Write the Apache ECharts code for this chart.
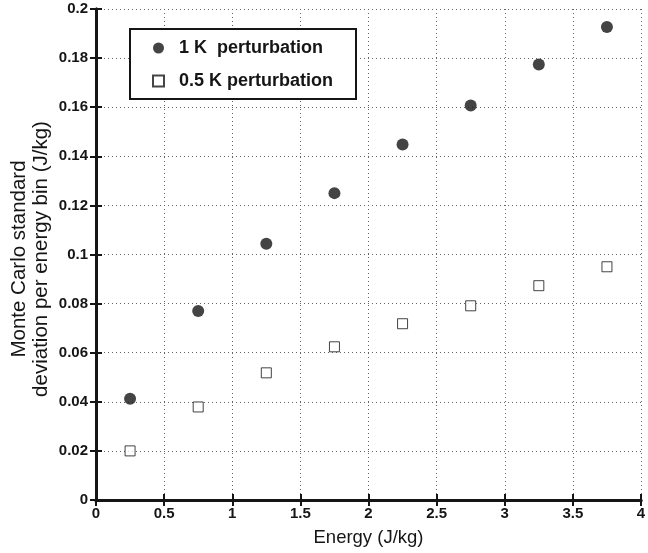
<!DOCTYPE html>
<html>
<head>
<meta charset="utf-8">
<script src="https://cdn.jsdelivr.net/npm/echarts@6/dist/echarts.min.js"></script>
<style>
  html, body { margin: 0; padding: 0; background: #fff; }
  #chart { width: 648px; height: 553px; }
</style>
</head>
<body>
<div id="chart"></div>
<script>
const energy = [0.25, 0.75, 1.25, 1.75, 2.25, 2.75, 3.25, 3.75];
const pert1K = [0.0412, 0.077, 0.1044, 0.1250, 0.1448, 0.1607, 0.1774, 0.1927];
const pert05K = [0.0200, 0.0379, 0.0518, 0.0624, 0.0718, 0.0791, 0.0873, 0.0950];

const chart = echarts.init(document.getElementById("chart"));
const font = "Liberation Sans, Arial, sans-serif";
const ink = "#151515";

const gridLine = { show: true, lineStyle: { color: "#666", type: [1, 3], width: 1 } };
const tickIn = { show: true, inside: true, length: 6, lineStyle: { color: ink, width: 2 } };
const lineBlack = { show: true, lineStyle: { color: ink, width: 3 } };
const labelStyle = { color: ink, fontFamily: font, fontWeight: "bold", fontSize: 15 };

const option = {
    animation: false,
    grid: { left: 96, right: 7, top: 9, bottom: 53, containLabel: false, outerBoundsMode: "none" },
    xAxis: [
        {
            type: "value", min: 0, max: 4, interval: 0.5,
            axisLine: lineBlack, axisTick: tickIn, splitLine: gridLine,
            axisLabel: Object.assign({ margin: 6 }, labelStyle),
            name: "Energy (J/kg)", nameLocation: "middle", nameGap: 28,
            nameTextStyle: { color: ink, fontFamily: font, fontSize: 18.5, verticalAlign: "top" }
        },
        {
            type: "value", position: "top", min: 0, max: 4, interval: 0.5,
            axisLine: lineBlack, axisTick: tickIn, splitLine: { show: false },
            axisLabel: { show: false }
        }
    ],
    yAxis: [
        {
            type: "value", min: 0, max: 0.2, interval: 0.02,
            axisLine: lineBlack, axisTick: tickIn, splitLine: gridLine,
            axisLabel: Object.assign({ margin: 8 }, labelStyle)
        },
        {
            type: "value", position: "right", min: 0, max: 0.2, interval: 0.02,
            axisLine: lineBlack, axisTick: tickIn, splitLine: { show: false },
            axisLabel: { show: false }
        }
    ],
    graphic: [
        {
            type: "rect", left: 129, top: 28, z: 50,
            shape: { width: 226, height: 70 },
            style: { fill: "#fff", stroke: ink, lineWidth: 2 }
        },
        {
            // y axis title
            type: "text", x: 30, y: 259, rotation: Math.PI / 2,
            style: {
                text: "Monte Carlo standard\ndeviation per energy bin (J/kg)",
                fill: ink, font: "20.5px Liberation Sans, Arial, sans-serif",
                lineHeight: 22, align: "center", verticalAlign: "middle"
            }
        }
    ],
    legend: {
        orient: "vertical", left: 152, top: 39, z: 60, padding: 0,
        itemGap: 15, itemWidth: 11, itemHeight: 11,
        formatter: "  {name}",
        textStyle: { color: ink, fontFamily: font, fontWeight: "bold", fontSize: 18 },
        data: ["1 K  perturbation", "0.5 K perturbation"]
    },
    series: [
        {
            name: "1 K  perturbation", type: "scatter",
            data: energy.map((x, i) => [x, pert1K[i]]),
            symbol: "circle", symbolSize: 12,
            itemStyle: { color: ink }
        },
        {
            name: "0.5 K perturbation", type: "scatter",
            data: energy.map((x, i) => [x, pert05K[i]]),
            symbol: "rect", symbolSize: 10,
            itemStyle: { color: "#fff", borderColor: ink, borderWidth: 1 }
        }
    ]
};

chart.setOption(option);
</script>
</body>
</html>
